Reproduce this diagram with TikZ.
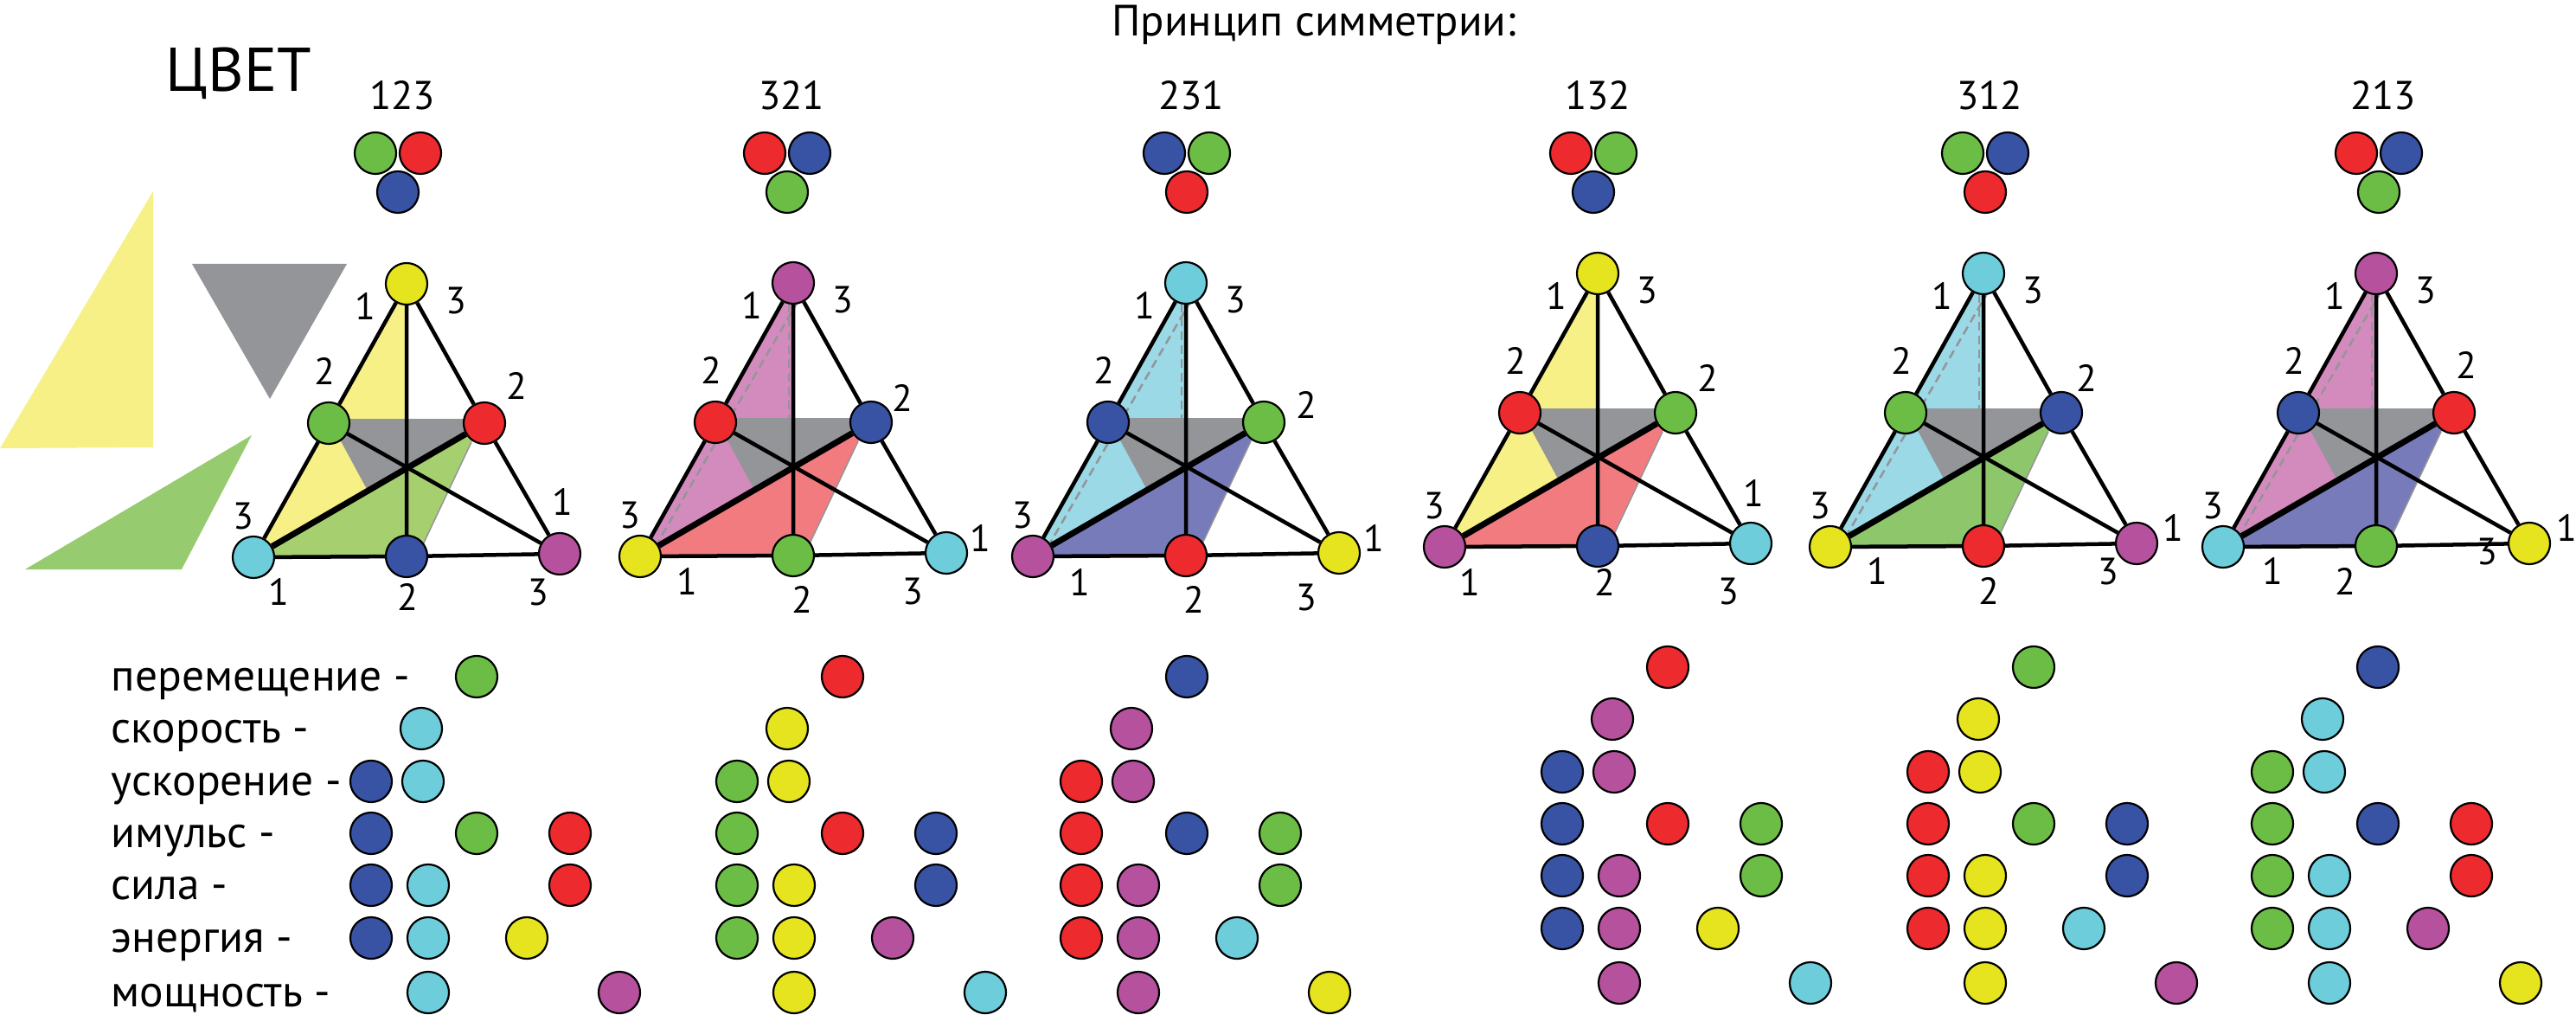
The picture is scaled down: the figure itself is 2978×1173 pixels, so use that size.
\documentclass[tikz,border=0pt]{standalone}
\usepackage{fontspec}
\setmainfont{PT Sans}
\usetikzlibrary{backgrounds}
\definecolor{ballyellow}{RGB}{229,228,31}
\definecolor{ballgreen}{RGB}{108,189,69}
\definecolor{ballred}{RGB}{237,42,46}
\definecolor{ballblue}{RGB}{56,82,164}
\definecolor{ballcyan}{RGB}{109,205,219}
\definecolor{ballmagenta}{RGB}{182,81,158}
\definecolor{faceyellow}{RGB}{246,240,134}
\definecolor{facegreen}{RGB}{166,208,112}
\definecolor{facegreenb}{RGB}{141,198,107}
\definecolor{facepink}{RGB}{211,139,189}
\definecolor{facesalmon}{RGB}{242,123,128}
\definecolor{facesky}{RGB}{155,217,230}
\definecolor{faceviolet}{RGB}{119,123,185}
\definecolor{facegray}{RGB}{147,149,152}
\definecolor{shapegreen}{RGB}{151,203,111}

\begin{document}
\begin{tikzpicture}[
  x=0.01cm, y=-0.01cm,
  ball/.style={circle, draw, line width=0.022cm, minimum size=0.48cm, inner sep=0pt},
  rib/.style={line width=0.045cm},
  thickrib/.style={line width=0.07cm},
  num/.style={font=\fontsize{12.4}{14}\selectfont, inner sep=0pt},
  digits/.style={font=\fontsize{13.2}{15}\selectfont, inner sep=0pt, anchor=base},
  rowlabel/.style={font=\fontsize{14.6}{18}\selectfont, inner sep=0pt, anchor=base west},
  hiddenline/.style={draw=facegray, line width=0.025cm, dash pattern=on 0.1cm off 0.06cm}
]
  \useasboundingbox (0,0) rectangle (2978,1173);

  % Titles
  \node[font=\fontsize{20.3}{24}\selectfont, inner sep=0pt, anchor=base west] (color) at (191,106) {ЦВЕТ};
  \node[font=\fontsize{14.4}{17}\selectfont, inner sep=0pt, anchor=base] (title) at (1519,42) {Принцип симметрии:};

  % Loose pieces
  \fill[faceyellow] (0,518) -- (177,221) -- (177,517) -- cycle;
  \fill[facegray] (222,305) -- (401,305) -- (312,461) -- cycle;
  \fill[shapegreen] (291,503) -- (210,658) -- (29,658) -- cycle;

  % Codes and triplets
  \foreach \k/\tx/\code/\ul/\ur/\lo in {
    1/460/123/ballgreen/ballred/ballblue,
    2/910/321/ballred/ballblue/ballgreen,
    3/1372/231/ballblue/ballgreen/ballred,
    4/1842/132/ballred/ballgreen/ballblue,
    5/2295/312/ballgreen/ballblue/ballred,
    6/2750/213/ballred/ballblue/ballgreen}
  {
    \node[digits] (code\k) at (\tx+5,127) {\code};
    \node[ball, fill=\ul] (p\k l) at (\tx-26,177) {};
    \node[ball, fill=\ur] (p\k r) at (\tx+26,177) {};
    \node[ball, fill=\lo] (p\k b) at (\tx,222) {};
  }

  % Tetrahedra
  \foreach \k/\ax/\ay/\va/\vlm/\vrm/\vbl/\vbm/\vbr/\fa/\fb in {
    1/470/328/ballyellow/ballgreen/ballred/ballcyan/ballblue/ballmagenta/faceyellow/facegreen,
    2/917/327/ballmagenta/ballred/ballblue/ballyellow/ballgreen/ballcyan/facepink/facesalmon,
    3/1371/327/ballcyan/ballblue/ballgreen/ballmagenta/ballred/ballyellow/facesky/faceviolet,
    4/1847/316/ballyellow/ballred/ballgreen/ballmagenta/ballblue/ballcyan/faceyellow/facesalmon,
    5/2293/316/ballcyan/ballgreen/ballblue/ballyellow/ballred/ballmagenta/facesky/facegreenb,
    6/2747/316/ballmagenta/ballblue/ballred/ballcyan/ballgreen/ballyellow/facepink/faceviolet}
  {
    \begin{scope}[shift={(\ax,\ay)}]
      \begin{scope}[on background layer]
        \fill[\fa] (0,0) -- (-177,316) -- (0,212) -- cycle;
        \fill[\fb] (-177,316) -- (90,161) -- (75,183) -- (12,316) -- cycle;
        \fill[facegray] (-90,156) -- (90,156) -- (90,161) -- (-45,239) -- cycle;
        \draw[facegray, line width=0.015cm] (75,183) -- (12,316);
      \end{scope}
      \node[ball, fill=\va] (a\k) at (0,0) {};
      \node[ball, fill=\vlm] (lm\k) at (-90,161) {};
      \node[ball, fill=\vrm] (rm\k) at (90,161) {};
      \node[ball, fill=\vbl] (bl\k) at (-177,316) {};
      \node[ball, fill=\vbm] (bm\k) at (0,315) {};
      \node[ball, fill=\vbr] (br\k) at (177,312) {};
      \draw[rib] (a\k) -- (lm\k) (lm\k) -- (bl\k) (a\k) -- (rm\k) (rm\k) -- (br\k)
                 (bl\k) -- (bm\k) (bm\k) -- (br\k) (a\k) -- (bm\k) (lm\k) -- (br\k);
      \draw[thickrib] (rm\k) -- (bl\k);
      \node[num] (n\k a) at (-48,26) {1};
      \node[num] (n\k b) at (57,19) {3};
      \node[num] (n\k c) at (-95,101) {2};
      \node[num] (n\k d) at (-189,268) {3};
    \end{scope}
  }

  % hidden edges
  \foreach \ax/\ay in {917/327, 1371/327, 2293/316, 2747/316}
  {
    \begin{scope}[shift={(\ax,\ay)}, on background layer]
      \draw[hiddenline] (6,20) -- (-166,316);
      \draw[hiddenline] (-5,24) -- (-5,156);
    \end{scope}
  }

  % labels that move from picture to picture
  \foreach \lx/\ly/\txt [count=\i] in {
    597/446/2, 322/684/1, 471/690/2, 622/684/3, 650/580/1,
    1043/460/2, 794/672/1, 927/693/2, 1055/683/3, 1133/622/1,
    1510/468/2, 1248/673/1, 1380/693/2, 1510/690/3, 1588/622/1,
    1974/437/2, 1699/673/1, 1855/673/2, 1998/683/3, 2027/570/1,
    2412/437/2, 2170/660/1, 2299/683/2, 2437/660/3, 2512/610/1,
    2851/422/2, 2627/660/1, 2711/672/2, 2875/637/3, 2967/610/1}
    \node[num] (m\i) at (\lx,\ly) {\txt};

  % Rows
  \node[rowlabel] (row1) at (128,798) {перемещение -};
  \node[rowlabel] (row2) at (128,858) {скорость -};
  \node[rowlabel] (row3) at (128,919) {ускорение -};
  \node[rowlabel] (row4) at (128,979) {имульс -};
  \node[rowlabel] (row5) at (128,1039) {сила -};
  \node[rowlabel] (row6) at (128,1100) {энергия -};
  \node[rowlabel] (row7) at (128,1163) {мощность -};

  \foreach \g/\gx/\gy/\colA/\colB/\colC/\colD/\colE/\colF in {
    1/429/0/ballblue/ballcyan/ballgreen/ballyellow/ballred/ballmagenta,
    2/852/0/ballgreen/ballyellow/ballred/ballmagenta/ballblue/ballcyan,
    3/1250/0/ballred/ballmagenta/ballblue/ballcyan/ballgreen/ballyellow,
    4/1806/-11/ballblue/ballmagenta/ballred/ballyellow/ballgreen/ballcyan,
    5/2229/-11/ballred/ballyellow/ballgreen/ballcyan/ballblue/ballmagenta,
    6/2627/-11/ballgreen/ballcyan/ballblue/ballmagenta/ballred/ballyellow}
  {
    \begin{scope}[shift={(\gx,\gy)}]
      \node[ball, fill=\colC] (d\g-1c) at (122,782) {};
      \node[ball, fill=\colB] (d\g-2b) at (58,842) {};
      \node[ball, fill=\colA] (d\g-3a) at (0,903) {};
      \node[ball, fill=\colB] (d\g-3b) at (60,903) {};
      \node[ball, fill=\colA] (d\g-4a) at (0,963) {};
      \node[ball, fill=\colC] (d\g-4c) at (122,963) {};
      \node[ball, fill=\colE] (d\g-4e) at (230,963) {};
      \node[ball, fill=\colA] (d\g-5a) at (0,1023) {};
      \node[ball, fill=\colB] (d\g-5b) at (66,1023) {};
      \node[ball, fill=\colE] (d\g-5e) at (230,1023) {};
      \node[ball, fill=\colA] (d\g-6a) at (0,1084) {};
      \node[ball, fill=\colB] (d\g-6b) at (66,1084) {};
      \node[ball, fill=\colD] (d\g-6d) at (180,1084) {};
      \node[ball, fill=\colB] (d\g-7b) at (66,1147) {};
      \node[ball, fill=\colF] (d\g-7f) at (287,1147) {};
    \end{scope}
  }
\end{tikzpicture}
\end{document}
